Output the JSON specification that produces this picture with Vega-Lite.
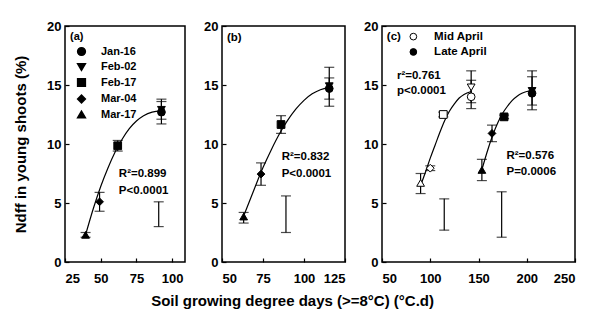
{
  "$schema": "https://vega.github.io/schema/vega-lite/v6.json",
  "padding": {"left": 12, "top": 19, "right": 5, "bottom": 5},
  "background": "white",
  "config": {
    "font": "Liberation Sans",
    "view": {"stroke": "black", "strokeWidth": 1.5},
    "axis": {"domain": false, "grid": false, "tickColor": "black", "tickSize": -4, "tickWidth": 1.2, "labelFontSize": 13, "labelFontWeight": "bold", "labelColor": "black", "titleFontSize": 15, "titleFontWeight": "bold", "titleColor": "black", "labelFont": "Liberation Sans", "titleFont": "Liberation Sans"},
    "axisX": {"labelPadding": 14},
    "axisY": {"labelPadding": 8}
  },
  "title": {"text": "Soil growing degree days (>=8°C) (°C.d)", "orient": "bottom", "anchor": "middle", "fontSize": 15, "fontWeight": "bold", "color": "black", "offset": 8, "dx": -2, "font": "Liberation Sans"},
  "bounds": "flush",
  "spacing": 37,
  "resolve": {"scale": {"x": "independent", "y": "independent", "shape": "independent"}, "legend": {"shape": "independent"}},
  "datasets": {
    "pts": [
      {"panel": "a", "date": "Jan-16", "x": 92.5, "y": 12.7, "fill": "black"},
      {"panel": "a", "date": "Feb-02", "x": 92.5, "y": 12.9, "fill": "black"},
      {"panel": "a", "date": "Feb-17", "x": 61.9, "y": 9.85, "fill": "black"},
      {"panel": "a", "date": "Mar-04", "x": 49.2, "y": 5.1, "fill": "black"},
      {"panel": "a", "date": "Mar-17", "x": 39.4, "y": 2.3, "fill": "black"},
      {"panel": "b", "date": "Jan-16", "x": 115.4, "y": 14.7, "fill": "black"},
      {"panel": "b", "date": "Feb-02", "x": 115.4, "y": 14.9, "fill": "black"},
      {"panel": "b", "date": "Feb-17", "x": 86.0, "y": 11.65, "fill": "black"},
      {"panel": "b", "date": "Mar-04", "x": 73.8, "y": 7.45, "fill": "black"},
      {"panel": "b", "date": "Mar-17", "x": 63.2, "y": 3.85, "fill": "black"},
      {"panel": "c", "date": "Jan-16", "x": 142.4, "y": 14.0, "fill": "white"},
      {"panel": "c", "date": "Feb-02", "x": 142.4, "y": 14.8, "fill": "white"},
      {"panel": "c", "date": "Feb-17", "x": 113.5, "y": 12.5, "fill": "white"},
      {"panel": "c", "date": "Mar-04", "x": 100.0, "y": 7.95, "fill": "white"},
      {"panel": "c", "date": "Mar-17", "x": 90.0, "y": 6.7, "fill": "white"},
      {"panel": "c", "date": "Jan-16", "x": 205.5, "y": 14.3, "fill": "black"},
      {"panel": "c", "date": "Feb-02", "x": 205.5, "y": 14.5, "fill": "black"},
      {"panel": "c", "date": "Feb-17", "x": 176.5, "y": 12.3, "fill": "black"},
      {"panel": "c", "date": "Mar-04", "x": 164.0, "y": 10.9, "fill": "black"},
      {"panel": "c", "date": "Mar-17", "x": 153.5, "y": 7.8, "fill": "black"}
    ],
    "bars": [
      {"panel": "a", "x": 92.5, "lo": 11.7, "hi": 13.6},
      {"panel": "a", "x": 92.5, "lo": 12.1, "hi": 13.8},
      {"panel": "a", "x": 61.9, "lo": 9.4, "hi": 10.3},
      {"panel": "a", "x": 49.2, "lo": 4.3, "hi": 5.9},
      {"panel": "a", "x": 39.4, "lo": 2.1, "hi": 2.5},
      {"panel": "a", "x": 90.6, "lo": 3.0, "hi": 5.1},
      {"panel": "b", "x": 115.4, "lo": 13.2, "hi": 16.5},
      {"panel": "b", "x": 115.4, "lo": 13.8, "hi": 15.6},
      {"panel": "b", "x": 86.0, "lo": 10.9, "hi": 12.4},
      {"panel": "b", "x": 73.8, "lo": 6.5, "hi": 8.4},
      {"panel": "b", "x": 63.2, "lo": 3.3, "hi": 4.2},
      {"panel": "b", "x": 89.0, "lo": 2.5, "hi": 5.6},
      {"panel": "c", "x": 142.4, "lo": 13.0, "hi": 15.4},
      {"panel": "c", "x": 142.4, "lo": 13.5, "hi": 16.2},
      {"panel": "c", "x": 113.5, "lo": 12.3, "hi": 12.7},
      {"panel": "c", "x": 100.0, "lo": 7.75, "hi": 8.15},
      {"panel": "c", "x": 90.0, "lo": 5.8, "hi": 7.5},
      {"panel": "c", "x": 205.5, "lo": 12.9, "hi": 15.7},
      {"panel": "c", "x": 205.5, "lo": 13.3, "hi": 16.2},
      {"panel": "c", "x": 176.5, "lo": 12.15, "hi": 12.45},
      {"panel": "c", "x": 164.0, "lo": 10.2, "hi": 11.6},
      {"panel": "c", "x": 153.5, "lo": 6.9, "hi": 8.7},
      {"panel": "c", "x": 114.5, "lo": 2.7, "hi": 5.35},
      {"panel": "c", "x": 174.0, "lo": 2.1, "hi": 5.95}
    ],
    "curves": [
      {"panel": "a", "s": "a", "x": 39.4, "y": 2.3},
      {"panel": "a", "s": "a", "x": 45, "y": 4.6},
      {"panel": "a", "s": "a", "x": 50, "y": 6.4},
      {"panel": "a", "s": "a", "x": 55, "y": 7.95},
      {"panel": "a", "s": "a", "x": 60, "y": 9.3},
      {"panel": "a", "s": "a", "x": 65, "y": 10.4},
      {"panel": "a", "s": "a", "x": 70, "y": 11.3},
      {"panel": "a", "s": "a", "x": 75, "y": 11.95},
      {"panel": "a", "s": "a", "x": 80, "y": 12.4},
      {"panel": "a", "s": "a", "x": 86, "y": 12.7},
      {"panel": "a", "s": "a", "x": 92.5, "y": 12.8},
      {"panel": "b", "s": "b", "x": 63.2, "y": 3.9},
      {"panel": "b", "s": "b", "x": 70, "y": 6.3},
      {"panel": "b", "s": "b", "x": 75, "y": 8.0},
      {"panel": "b", "s": "b", "x": 80, "y": 9.5},
      {"panel": "b", "s": "b", "x": 86, "y": 11.1},
      {"panel": "b", "s": "b", "x": 90, "y": 12.0},
      {"panel": "b", "s": "b", "x": 95, "y": 12.95},
      {"panel": "b", "s": "b", "x": 100, "y": 13.7},
      {"panel": "b", "s": "b", "x": 105, "y": 14.25},
      {"panel": "b", "s": "b", "x": 110, "y": 14.6},
      {"panel": "b", "s": "b", "x": 115.4, "y": 14.8},
      {"panel": "c", "s": "mid", "x": 89.7, "y": 6.4},
      {"panel": "c", "s": "mid", "x": 95, "y": 7.6},
      {"panel": "c", "s": "mid", "x": 100, "y": 8.8},
      {"panel": "c", "s": "mid", "x": 105, "y": 9.9},
      {"panel": "c", "s": "mid", "x": 110, "y": 11.0},
      {"panel": "c", "s": "mid", "x": 115, "y": 12.0},
      {"panel": "c", "s": "mid", "x": 120, "y": 12.8},
      {"panel": "c", "s": "mid", "x": 125, "y": 13.4},
      {"panel": "c", "s": "mid", "x": 130, "y": 13.9},
      {"panel": "c", "s": "mid", "x": 135, "y": 14.2},
      {"panel": "c", "s": "mid", "x": 142.4, "y": 14.45},
      {"panel": "c", "s": "late", "x": 153.4, "y": 7.8},
      {"panel": "c", "s": "late", "x": 160, "y": 9.6},
      {"panel": "c", "s": "late", "x": 165, "y": 10.8},
      {"panel": "c", "s": "late", "x": 170, "y": 11.8},
      {"panel": "c", "s": "late", "x": 175, "y": 12.6},
      {"panel": "c", "s": "late", "x": 180, "y": 13.2},
      {"panel": "c", "s": "late", "x": 185, "y": 13.7},
      {"panel": "c", "s": "late", "x": 190, "y": 14.05},
      {"panel": "c", "s": "late", "x": 195, "y": 14.3},
      {"panel": "c", "s": "late", "x": 200, "y": 14.45},
      {"panel": "c", "s": "late", "x": 205.5, "y": 14.5}
    ],
    "notes": [
      {"panel": "a", "x": 62.7, "y": 7.5, "t": "R²=0.899"},
      {"panel": "a", "x": 62.7, "y": 6.0, "t": "P<0.0001"},
      {"panel": "b", "x": 53.0, "y": 19.0, "t": "(b)"},
      {"panel": "b", "x": 86.4, "y": 8.9, "t": "R²=0.832"},
      {"panel": "b", "x": 86.4, "y": 7.5, "t": "P<0.0001"},
      {"panel": "c", "x": 55.0, "y": 19.1, "t": "(c)"},
      {"panel": "c", "x": 104.0, "y": 19.1, "t": "Mid April"},
      {"panel": "c", "x": 104.0, "y": 17.8, "t": "Late April"},
      {"panel": "c", "x": 65.5, "y": 15.8, "t": "r²=0.761"},
      {"panel": "c", "x": 65.5, "y": 14.5, "t": "p<0.0001"},
      {"panel": "c", "x": 179.0, "y": 9.0, "t": "R²=0.576"},
      {"panel": "c", "x": 179.0, "y": 7.65, "t": "P=0.0006"}
    ],
    "legc": [
      {"x": 82.5, "y": 19.1, "fill": "white"},
      {"x": 82.5, "y": 17.8, "fill": "black"}
    ]
  },
  "hconcat": [
    {
      "width": 120, "height": 236,
      "encoding": {
        "x": {"field": "x", "type": "quantitative", "scale": {"domain": [25, 109], "nice": false, "zero": false}, "axis": {"values": [25, 50, 75, 100], "title": null}}
      },
      "layer": [
        {"data": {"name": "bars"}, "transform": [{"filter": "datum.panel === 'a'"}], "mark": {"type": "rule", "color": "black", "strokeWidth": 1.2},
         "encoding": {"y": {"field": "lo", "type": "quantitative", "scale": {"domain": [0, 20], "nice": false}, "axis": {"values": [0, 5, 10, 15, 20], "title": "Ndff in young shoots (%)", "titlePadding": 18}}, "y2": {"field": "hi"}}},
        {"data": {"name": "bars"}, "transform": [{"filter": "datum.panel === 'a'"}], "mark": {"type": "tick", "orient": "horizontal", "color": "black", "thickness": 1.2, "size": 10},
         "encoding": {"y": {"field": "lo", "type": "quantitative"}}},
        {"data": {"name": "bars"}, "transform": [{"filter": "datum.panel === 'a'"}], "mark": {"type": "tick", "orient": "horizontal", "color": "black", "thickness": 1.2, "size": 10},
         "encoding": {"y": {"field": "hi", "type": "quantitative"}}},
        {"data": {"name": "curves"}, "transform": [{"filter": "datum.panel === 'a'"}], "mark": {"type": "line", "color": "black", "strokeWidth": 1.2, "interpolate": "monotone"},
         "encoding": {"y": {"field": "y", "type": "quantitative"}, "detail": {"field": "s"}}},
        {"data": {"name": "pts"}, "transform": [{"filter": "datum.panel === 'a'"}], "mark": {"type": "point", "filled": true, "stroke": "black", "strokeWidth": 1, "size": 60, "opacity": 1},
         "encoding": {"y": {"field": "y", "type": "quantitative"},
           "fill": {"field": "fill", "type": "nominal", "scale": null},
           "shape": {"field": "date", "type": "nominal", "scale": {"domain": ["Jan-16", "Feb-02", "Feb-17", "Mar-04", "Mar-17"], "range": ["circle", "triangle-down", "square", "diamond", "triangle-up"]},
             "legend": {"orient": "top-left", "title": "(a)", "offset": 5, "padding": 0, "titleFontSize": 11, "titleFontWeight": "bold", "titleColor": "black", "labelFontSize": 11, "labelFontWeight": "bold", "labelColor": "black", "symbolOffset": 6, "labelOffset": 14, "rowPadding": 1.5, "symbolSize": 60, "symbolFillColor": "black", "symbolStrokeColor": "black", "titlePadding": 4}}}},
        {"data": {"name": "notes"}, "transform": [{"filter": "datum.panel === 'a'"}], "mark": {"type": "text", "align": "left", "baseline": "middle", "fontSize": 11.5, "fontWeight": "bold", "color": "black", "font": "Liberation Sans"},
         "encoding": {"y": {"field": "y", "type": "quantitative"}, "text": {"field": "t"}}}
      ]
    },
    {
      "width": 123, "height": 236,
      "encoding": {
        "x": {"field": "x", "type": "quantitative", "scale": {"domain": [50, 125], "nice": false, "zero": false}, "axis": {"values": [50, 75, 100, 125], "title": null}}
      },
      "layer": [
        {"data": {"name": "bars"}, "transform": [{"filter": "datum.panel === 'b'"}], "mark": {"type": "rule", "color": "black", "strokeWidth": 1.2},
         "encoding": {"y": {"field": "lo", "type": "quantitative", "scale": {"domain": [0, 20], "nice": false}, "axis": {"values": [0, 5, 10, 15, 20], "title": null}}, "y2": {"field": "hi"}}},
        {"data": {"name": "bars"}, "transform": [{"filter": "datum.panel === 'b'"}], "mark": {"type": "tick", "orient": "horizontal", "color": "black", "thickness": 1.2, "size": 10},
         "encoding": {"y": {"field": "lo", "type": "quantitative"}}},
        {"data": {"name": "bars"}, "transform": [{"filter": "datum.panel === 'b'"}], "mark": {"type": "tick", "orient": "horizontal", "color": "black", "thickness": 1.2, "size": 10},
         "encoding": {"y": {"field": "hi", "type": "quantitative"}}},
        {"data": {"name": "curves"}, "transform": [{"filter": "datum.panel === 'b'"}], "mark": {"type": "line", "color": "black", "strokeWidth": 1.2, "interpolate": "monotone"},
         "encoding": {"y": {"field": "y", "type": "quantitative"}, "detail": {"field": "s"}}},
        {"data": {"name": "pts"}, "transform": [{"filter": "datum.panel === 'b'"}], "mark": {"type": "point", "filled": true, "stroke": "black", "strokeWidth": 1, "size": 60, "opacity": 1},
         "encoding": {"y": {"field": "y", "type": "quantitative"},
           "fill": {"field": "fill", "type": "nominal", "scale": null},
           "shape": {"field": "date", "type": "nominal", "scale": {"domain": ["Jan-16", "Feb-02", "Feb-17", "Mar-04", "Mar-17"], "range": ["circle", "triangle-down", "square", "diamond", "triangle-up"]}, "legend": null}}},
        {"data": {"name": "notes"}, "transform": [{"filter": "datum.panel === 'b'"}], "mark": {"type": "text", "align": "left", "baseline": "middle", "fontSize": 11.5, "fontWeight": "bold", "color": "black", "font": "Liberation Sans"},
         "encoding": {"y": {"field": "y", "type": "quantitative"}, "text": {"field": "t"}}}
      ]
    },
    {
      "width": 193, "height": 236,
      "encoding": {
        "x": {"field": "x", "type": "quantitative", "scale": {"domain": [50, 250], "nice": false, "zero": false}, "axis": {"values": [50, 100, 150, 200, 250], "title": null}}
      },
      "layer": [
        {"data": {"name": "bars"}, "transform": [{"filter": "datum.panel === 'c'"}], "mark": {"type": "rule", "color": "black", "strokeWidth": 1.2},
         "encoding": {"y": {"field": "lo", "type": "quantitative", "scale": {"domain": [0, 20], "nice": false}, "axis": {"values": [0, 5, 10, 15, 20], "title": null}}, "y2": {"field": "hi"}}},
        {"data": {"name": "bars"}, "transform": [{"filter": "datum.panel === 'c'"}], "mark": {"type": "tick", "orient": "horizontal", "color": "black", "thickness": 1.2, "size": 10},
         "encoding": {"y": {"field": "lo", "type": "quantitative"}}},
        {"data": {"name": "bars"}, "transform": [{"filter": "datum.panel === 'c'"}], "mark": {"type": "tick", "orient": "horizontal", "color": "black", "thickness": 1.2, "size": 10},
         "encoding": {"y": {"field": "hi", "type": "quantitative"}}},
        {"data": {"name": "curves"}, "transform": [{"filter": "datum.panel === 'c'"}], "mark": {"type": "line", "color": "black", "strokeWidth": 1.2, "interpolate": "monotone"},
         "encoding": {"y": {"field": "y", "type": "quantitative"}, "detail": {"field": "s"}}},
        {"data": {"name": "pts"}, "transform": [{"filter": "datum.panel === 'c'"}], "mark": {"type": "point", "filled": true, "stroke": "black", "strokeWidth": 1, "size": 60, "opacity": 1},
         "encoding": {"y": {"field": "y", "type": "quantitative"},
           "fill": {"field": "fill", "type": "nominal", "scale": null},
           "shape": {"field": "date", "type": "nominal", "scale": {"domain": ["Jan-16", "Feb-02", "Feb-17", "Mar-04", "Mar-17"], "range": ["circle", "triangle-down", "square", "diamond", "triangle-up"]}, "legend": null}}},
        {"data": {"name": "legc"}, "mark": {"type": "point", "shape": "circle", "filled": true, "stroke": "black", "strokeWidth": 1, "size": 45, "opacity": 1},
         "encoding": {"y": {"field": "y", "type": "quantitative"}, "fill": {"field": "fill", "type": "nominal", "scale": null}}},
        {"data": {"name": "notes"}, "transform": [{"filter": "datum.panel === 'c'"}], "mark": {"type": "text", "align": "left", "baseline": "middle", "fontSize": 11.5, "fontWeight": "bold", "color": "black", "font": "Liberation Sans"},
         "encoding": {"y": {"field": "y", "type": "quantitative"}, "text": {"field": "t"}}}
      ]
    }
  ]
}
